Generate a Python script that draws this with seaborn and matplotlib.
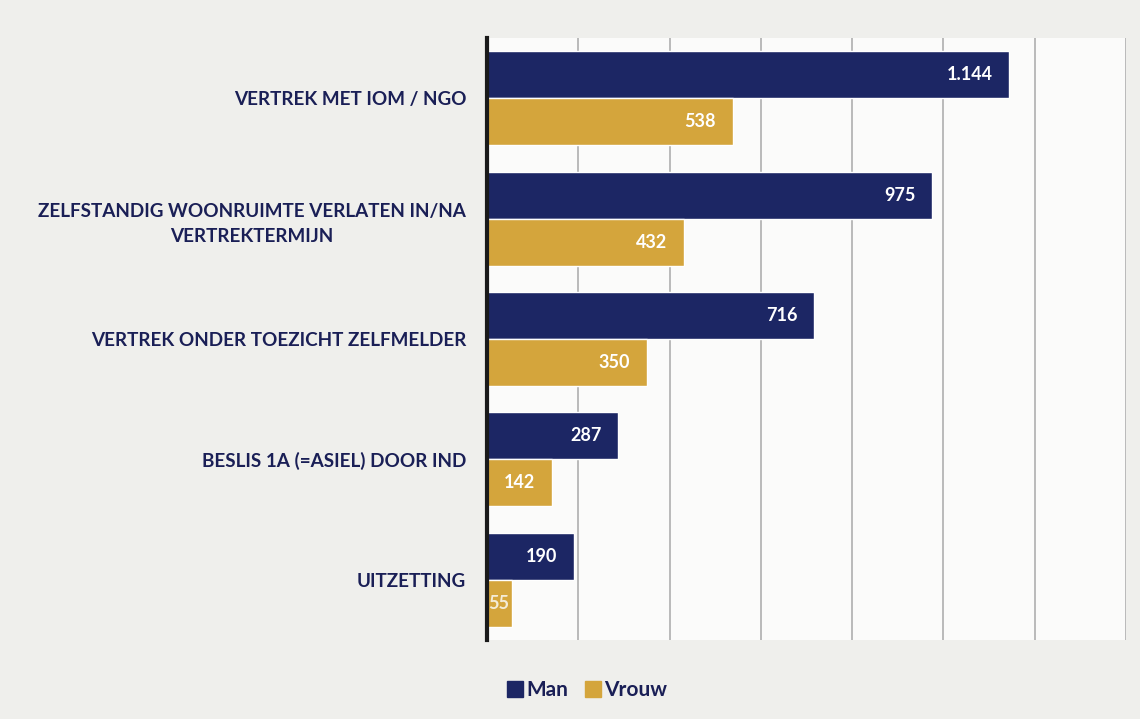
import matplotlib
matplotlib.use("Agg")
import matplotlib.pyplot as plt
from matplotlib.lines import Line2D
import numpy as np
import pandas as pd
import seaborn as sns

categories = [
    "VERTREK MET IOM / NGO",
    "ZELFSTANDIG WOONRUIMTE VERLATEN IN/NA\nVERTREKTERMIJN",
    "VERTREK ONDER TOEZICHT ZELFMELDER",
    "BESLIS 1A (=ASIEL) DOOR IND",
    "UITZETTING",
]
man = [1144, 975, 716, 287, 190]
vrouw = [538, 432, 350, 142, 55]
series = ["Man", "Vrouw"]
x_ticks = [0, 200, 400, 600, 800, 1000, 1200, 1400]

NAVY = "#1c2664"
GOLD = "#d4a53c"
TEXT = "#1a1f56"

df = pd.DataFrame({
    "categorie": categories * 2,
    "aantal": man + vrouw,
    "geslacht": ["Man"] * len(categories) + ["Vrouw"] * len(categories),
})

sns.set_theme(style="white")
plt.rcParams["font.family"] = ["Lato", "DejaVu Sans"]

fig = plt.figure(figsize=(11.4, 7.19), dpi=100, facecolor="#efefec")
ax = fig.add_axes([487 / 1140, 1 - 640 / 719, (1126 - 487) / 1140, (640 - 38) / 719])
ax.set_facecolor("#fbfbfa")

sns.barplot(data=df, y="categorie", x="aantal", hue="geslacht", orient="h",
            palette={"Man": NAVY, "Vrouw": GOLD}, width=0.78, saturation=1,
            legend=False, ax=ax, zorder=3)

ax.set_xlim(0, 1400)
ax.set_ylim(4.5, -0.5)
ax.set_xticks(x_ticks)
ax.set_xticklabels([])
ax.tick_params(axis="x", length=0)
ax.tick_params(axis="y", length=0, pad=15)
ax.grid(axis="x", color="#a8a8a8", linewidth=1.1, zorder=0)
ax.grid(axis="y", visible=False)
for side in ["top", "right", "bottom"]:
    ax.spines[side].set_visible(False)
ax.spines["left"].set_color("#1a1a1a")
ax.spines["left"].set_linewidth(3)
ax.spines["left"].set_zorder(5)
ax.set_xlabel("")
ax.set_ylabel("")

for lbl in ax.get_yticklabels():
    lbl.set_fontsize(13.6)
    lbl.set_fontweight("bold")
    lbl.set_color(TEXT)
    lbl.set_horizontalalignment("right")
    lbl.set_multialignment("center")
    lbl.set_linespacing(1.55)

def fmt(v):
    return f"{v:,}".replace(",", ".")

for cont, vals in zip(ax.containers, [man, vrouw]):
    for bar, v in zip(cont, vals):
        yc = bar.get_y() + bar.get_height() / 2
        if v >= 120:
            ax.annotate(fmt(v), xy=(v, yc), xytext=(-12, 0), textcoords="offset points",
                        ha="right", va="center", color="white", fontsize=13,
                        fontweight="bold", zorder=6)
        else:
            ax.annotate(fmt(v), xy=(0, yc), xytext=(1, 0), textcoords="offset points",
                        ha="left", va="center", color="#f4ecd8", fontsize=13,
                        fontweight="bold", zorder=6)

handles = [Line2D([], [], marker="s", linestyle="", markersize=12, color=c) for c in [NAVY, GOLD]]
leg = fig.legend(handles, series, loc="center", bbox_to_anchor=(586 / 1140, 1 - 690 / 719),
                 ncol=2, frameon=False, handletextpad=0.05, columnspacing=0.7,
                 handlelength=1.0, prop={"weight": "bold", "size": 15})
for t in leg.get_texts():
    t.set_color(TEXT)

fig.savefig("out.png", dpi=100, facecolor=fig.get_facecolor())
